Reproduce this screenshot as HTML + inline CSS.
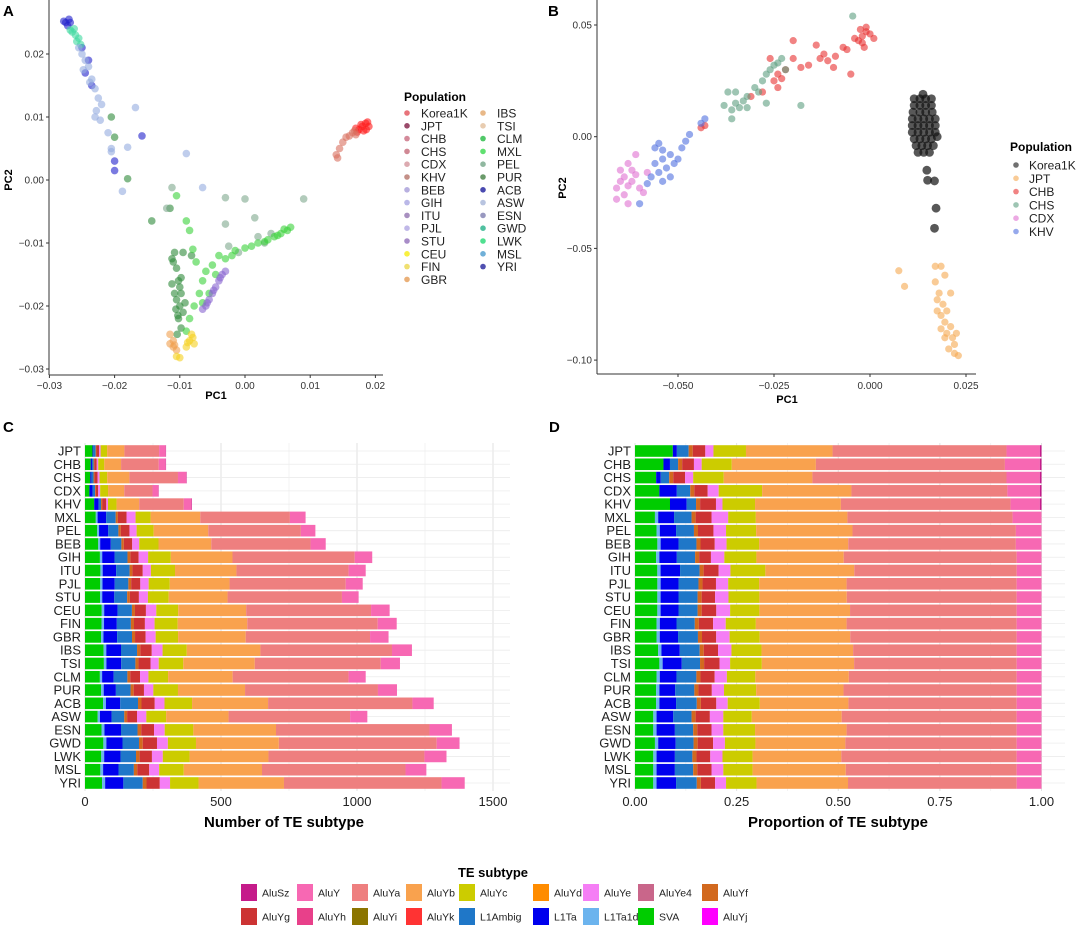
<!DOCTYPE html>
<html><head><meta charset="utf-8"><style>
html,body{margin:0;padding:0;background:#fff;}
svg{display:block;font-family:"Liberation Sans",Arial,sans-serif;}
</style></head><body>
<svg id="fig" width="1080" height="929" viewBox="0 0 1080 929" xmlns="http://www.w3.org/2000/svg">
<g id="static">
<text x="3" y="16" font-size="15" font-weight="bold">A</text>
<text x="548" y="16" font-size="15" font-weight="bold">B</text>
<text x="3" y="432" font-size="15" font-weight="bold">C</text>
<text x="549" y="432" font-size="15" font-weight="bold">D</text>
<text x="216" y="399" font-size="11" font-weight="bold" text-anchor="middle">PC1</text>
<text x="12" y="180" font-size="11" font-weight="bold" text-anchor="middle" transform="rotate(-90 12 180)">PC2</text>
<text x="787" y="403" font-size="11" font-weight="bold" text-anchor="middle">PC1</text>
<text x="566" y="188" font-size="11" font-weight="bold" text-anchor="middle" transform="rotate(-90 566 188)">PC2</text>
<text x="404" y="101" font-size="12" font-weight="bold">Population</text>
<text x="1010" y="151" font-size="12" font-weight="bold">Population</text>
<text x="284" y="827" font-size="15" font-weight="bold" text-anchor="middle">Number of TE subtype</text>
<text x="838" y="827" font-size="15" font-weight="bold" text-anchor="middle">Proportion of TE subtype</text>
<text x="493" y="877" font-size="13" font-weight="bold" text-anchor="middle">TE subtype</text>
</g>
</svg>
<script>
// ---------- Panel A data ----------
const aGroups = ['Korea1K','EAS1KG','YRI','GWD','ASW','PUR','PEL','MXL','SAS','IBS','CEU'];
const aColors = ['#ff1a1a','#d9705f','#2222cc','#40d8a0','#95ace0','#2e8b3a','#7ea88e','#3ad23a','#8866d0','#f0a050','#f5d020'];
const aKorea = [[0.018,0.0085],[0.0185,0.009],[0.0175,0.008],[0.019,0.0085],[0.0178,0.0088],[0.0182,0.0078],[0.017,0.0082],[0.0188,0.0092],[0.0172,0.0076],[0.0186,0.008]];
const aEas = [[0.016,0.007],[0.0165,0.0075],[0.0155,0.0068],[0.015,0.006],[0.0145,0.005],[0.014,0.004],[0.0142,0.0035],[0.017,0.0072],[0.0168,0.0078]];
const aYri = [[-0.0275,0.025],[-0.027,0.0255],[-0.0272,0.0245],[-0.0268,0.025],[-0.0278,0.0252],[-0.025,0.021],[-0.024,0.019],[-0.0235,0.015],[-0.0245,0.017],[-0.02,0.003],[-0.02,0.0015],[-0.0158,0.007]];
const aGwd = [[-0.0265,0.0235],[-0.026,0.023],[-0.0255,0.0225],[-0.0262,0.024],[-0.0258,0.022],[-0.0252,0.0215],[-0.0268,0.0238]];
const aAsw = [[-0.0255,0.021],[-0.025,0.02],[-0.0245,0.019],[-0.024,0.018],[-0.0235,0.016],[-0.023,0.0145],[-0.0225,0.013],[-0.022,0.012],[-0.0228,0.011],[-0.0222,0.0095],[-0.023,0.01],[-0.021,0.0075],[-0.0205,0.005],[-0.0205,0.0045],[-0.018,0.0052],[-0.0168,0.0115],[-0.0188,-0.0018],[-0.009,0.0042],[-0.0065,-0.0012],[-0.0248,0.0175],[-0.0238,0.0155]];
const aPur = [[-0.0108,-0.0115],[-0.011,-0.013],[-0.0105,-0.014],[-0.0102,-0.016],[-0.01,-0.017],[-0.0098,-0.018],[-0.0105,-0.019],[-0.01,-0.02],[-0.0095,-0.021],[-0.0102,-0.022],[-0.0108,-0.018],[-0.0112,-0.0165],[-0.0092,-0.0195],[-0.0112,-0.0125],[-0.0098,-0.0235],[-0.0104,-0.0245],[-0.0095,-0.0115],[-0.0082,-0.012],[-0.0205,0.01],[-0.02,0.0068],[-0.018,0.0002],[-0.0143,-0.0065],[-0.0115,-0.0045],[-0.0103,-0.0215],[-0.0098,-0.0155],[-0.0106,-0.0205]];
const aPel = [[-0.012,-0.0045],[-0.0112,-0.0012],[-0.003,-0.0028],[0.0,-0.003],[0.009,-0.003],[0.0015,-0.006],[-0.003,-0.007],[0.002,-0.009],[0.004,-0.0085],[-0.0025,-0.0105],[-0.001,-0.0115],[0.003,-0.01]];
const aMxl = [[-0.0105,-0.0025],[-0.009,-0.0065],[-0.0085,-0.008],[-0.008,-0.011],[-0.0075,-0.013],[-0.006,-0.0145],[-0.007,-0.018],[-0.0065,-0.016],[-0.005,-0.0135],[-0.004,-0.012],[-0.003,-0.0125],[-0.0015,-0.0112],[0.0,-0.0108],[0.001,-0.0105],[0.002,-0.01],[0.0035,-0.0095],[0.0045,-0.009],[0.0055,-0.0085],[0.0065,-0.008],[0.007,-0.0075],[0.006,-0.0078],[0.005,-0.0088],[0.003,-0.0098],[-0.002,-0.012],[-0.0085,-0.022],[-0.009,-0.024],[-0.0078,-0.02],[-0.0065,-0.0195],[-0.0055,-0.018],[-0.0045,-0.015]];
const aSas = [[-0.0065,-0.0205],[-0.006,-0.02],[-0.0055,-0.019],[-0.005,-0.018],[-0.0045,-0.017],[-0.004,-0.016],[-0.0035,-0.015],[-0.003,-0.0145],[-0.0058,-0.0195],[-0.0048,-0.0175],[-0.0038,-0.0155]];
const aIbs = [[-0.0115,-0.0245],[-0.011,-0.0255],[-0.011,-0.0265],[-0.0105,-0.027],[-0.0115,-0.026],[-0.0108,-0.0262]];
const aCeu = [[-0.0085,-0.0255],[-0.008,-0.025],[-0.009,-0.0265],[-0.0078,-0.026],[-0.0088,-0.0258],[-0.0105,-0.028],[-0.01,-0.0282],[-0.0082,-0.0245]];
const aTicksX = [-0.03,-0.02,-0.01,0.00,0.01,0.02];
const aTicksXLab = ['\u22120.03','\u22120.02','\u22120.01','0.00','0.01','0.02'];
const aTicksY = [0.02,0.01,0.00,-0.01,-0.02,-0.03];
const aTicksYLab = ['0.02','0.01','0.00','\u22120.01','\u22120.02','\u22120.03'];
const aLegNames = ['Korea1K','JPT','CHB','CHS','CDX','KHV','BEB','GIH','ITU','PJL','STU','CEU','FIN','GBR','IBS','TSI','CLM','MXL','PEL','PUR','ACB','ASW','ESN','GWD','LWK','MSL','YRI'];
const aLegColors = ['#e8737a','#9a4a6a','#d48a9a','#d08894','#dcaab0','#c49088','#b8b0e0','#bab8e8','#a890c0','#c0b8e8','#a88cc8','#f8f040','#f0e070','#eab078','#e8b888','#e8ccb0','#50c868','#60e070','#90b8a0','#6a9a6a','#4a4ab0','#b8c4e0','#9898c0','#50c0a0','#50e090','#70b0d8','#5050b0'];

// ---------- Panel B data ----------
const bKorea = [[0.0115,0.017],[0.013,0.017],[0.0145,0.017],[0.016,0.017],[0.0115,0.014],[0.013,0.014],[0.0145,0.014],[0.016,0.014],[0.0112,0.011],[0.013,0.011],[0.0145,0.011],[0.0162,0.011],[0.011,0.008],[0.0125,0.008],[0.014,0.008],[0.0155,0.008],[0.017,0.008],[0.011,0.005],[0.0125,0.005],[0.014,0.005],[0.0155,0.005],[0.017,0.005],[0.011,0.002],[0.0125,0.002],[0.014,0.002],[0.0155,0.002],[0.017,0.002],[0.0115,-0.001],[0.013,-0.001],[0.0145,-0.001],[0.016,-0.001],[0.012,-0.004],[0.0135,-0.004],[0.015,-0.004],[0.0165,-0.004],[0.0125,-0.007],[0.014,-0.007],[0.0155,-0.007],[0.0138,0.019],[0.0175,0.0],[0.0148,-0.015],[0.015,-0.0195],[0.0168,-0.0198],[0.0172,-0.032],[0.0168,-0.041]];
const bJpt = [[0.0075,-0.06],[0.009,-0.067],[0.017,-0.058],[0.0185,-0.058],[0.017,-0.065],[0.018,-0.07],[0.0175,-0.073],[0.019,-0.075],[0.0185,-0.08],[0.02,-0.078],[0.0195,-0.083],[0.021,-0.085],[0.02,-0.088],[0.0215,-0.09],[0.022,-0.093],[0.0205,-0.095],[0.022,-0.097],[0.023,-0.098],[0.0195,-0.09],[0.0175,-0.078],[0.0185,-0.086],[0.021,-0.07],[0.0195,-0.062],[0.0225,-0.088]];
const bChb = [[-0.002,0.045],[-0.001,0.047],[-0.003,0.043],[0.0,0.046],[-0.002,0.042],[-0.004,0.044],[-0.001,0.049],[0.001,0.044],[-0.0025,0.048],[-0.0015,0.04],[-0.007,0.04],[-0.006,0.039],[-0.009,0.036],[-0.011,0.034],[-0.013,0.035],[-0.014,0.041],[-0.016,0.032],[-0.018,0.031],[-0.02,0.035],[-0.022,0.03],[-0.024,0.028],[-0.025,0.025],[-0.023,0.026],[-0.026,0.035],[-0.02,0.043],[-0.031,0.018],[-0.028,0.02],[-0.043,0.005],[-0.044,0.004],[-0.024,0.022],[-0.0095,0.031],[-0.005,0.028],[-0.012,0.037]];
const bChs = [[-0.038,0.014],[-0.036,0.012],[-0.034,0.013],[-0.035,0.015],[-0.033,0.016],[-0.037,0.02],[-0.035,0.02],[-0.032,0.018],[-0.03,0.022],[-0.028,0.025],[-0.026,0.03],[-0.024,0.033],[-0.023,0.035],[-0.027,0.028],[-0.025,0.032],[-0.029,0.02],[-0.032,0.013],[-0.036,0.008],[-0.018,0.014],[-0.0045,0.054],[-0.027,0.015],[-0.022,0.03]];
const bCdx = [[-0.065,-0.02],[-0.064,-0.018],[-0.063,-0.022],[-0.066,-0.023],[-0.062,-0.02],[-0.061,-0.017],[-0.064,-0.026],[-0.063,-0.03],[-0.066,-0.028],[-0.06,-0.023],[-0.058,-0.016],[-0.062,-0.015],[-0.063,-0.012],[-0.059,-0.025],[-0.061,-0.008],[-0.065,-0.015]];
const bKhv = [[-0.056,-0.012],[-0.054,-0.01],[-0.055,-0.016],[-0.053,-0.014],[-0.057,-0.018],[-0.052,-0.008],[-0.054,-0.006],[-0.056,-0.005],[-0.051,-0.012],[-0.05,-0.01],[-0.049,-0.005],[-0.048,-0.002],[-0.047,0.001],[-0.043,0.008],[-0.044,0.006],[-0.058,-0.021],[-0.06,-0.03],[-0.054,-0.02],[-0.052,-0.018],[-0.055,-0.003]];
const bNames = ['Korea1K','JPT','CHB','CHS','CDX','KHV'];
const bColors = ['#111111','#f5a850','#e83030','#5e9e80','#e070d0','#5070e0'];
const bTicksX = [-0.05,-0.025,0,0.025];
const bTicksXLab = ['\u22120.050','\u22120.025','0.000','0.025'];
const bTicksY = [0.05,0,-0.05,-0.1];
const bTicksYLab = ['0.05','0.00','\u22120.05','\u22120.10'];

// ---------- Panels C/D data ----------
const pops = ['JPT','CHB','CHS','CDX','KHV','MXL','PEL','BEB','GIH','ITU','PJL','STU','CEU','FIN','GBR','IBS','TSI','CLM','PUR','ACB','ASW','ESN','GWD','LWK','MSL','YRI'];
const totals = [298,298,374,271,393,811,847,885,1056,1032,1021,1006,1120,1146,1116,1202,1158,1032,1147,1282,1038,1349,1377,1329,1255,1396];
const pSVA = [9.3,7.0,5.2,6.0,8.6,4.9,5.3,5.5,5.2,5.5,5.5,5.5,5.5,5.3,5.3,5.7,6.0,5.3,5.2,5.2,4.5,4.5,4.9,4.5,4.5,4.5];
const pL1Ta1d = [0,0,0,0,0,0.8,0.8,0.8,0.8,0.8,0.8,0.8,0.8,0.8,0.8,0.8,0.8,0.8,0.8,0.8,0.8,0.8,0.8,0.8,0.8,0.8];
const pL1Ta = [1.0,1.6,1.1,4.3,4.1,3.9,4.0,4.4,4.3,4.8,4.4,4.4,4.4,4.1,4.5,4.5,4.7,4.1,3.9,4.1,4.1,4.5,4.3,4.5,4.5,4.8];
const pL1Ambig = [2.9,2.0,2.1,3.3,2.3,4.3,4.4,4.4,4.5,4.8,4.9,4.7,4.7,4.5,4.9,4.9,4.5,4.9,4.7,5.1,4.5,4.5,4.4,4.3,4.5,5.1];
const pAluYf = [1.0,1.0,1.0,1.0,1.0,1.0,1.0,1.0,1.0,1.0,1.0,1.0,1.0,1.0,1.0,1.0,1.0,1.0,1.0,1.0,1.0,1.0,1.0,1.0,1.0,1.0];
const pAluYg = [3.1,2.9,2.9,3.3,3.9,3.9,3.8,3.5,2.9,3.7,3.3,3.3,3.6,3.5,3.5,3.5,3.8,3.5,3.3,3.8,3.5,3.5,3.8,3.4,3.5,3.5];
const pAluYe = [2.0,1.9,2.0,2.7,1.6,4.1,3.1,2.9,3.3,2.9,3.0,3.3,3.4,3.1,3.3,3.3,2.6,3.0,3.0,2.8,3.3,2.9,2.9,3.0,2.9,2.7];
const pAluYc = [8.0,7.4,7.5,10.7,8.0,6.8,7.4,8.0,7.9,8.6,7.6,7.6,7.2,7.4,7.4,7.4,7.8,7.0,7.9,7.9,7.0,7.8,7.5,7.4,7.2,7.5];
const pAluYb = [21.3,20.7,21.8,22.0,21.1,22.5,23.7,21.9,21.5,21.9,21.5,21.5,22.3,22.3,22.3,22.5,22.7,23.0,21.5,21.8,22.1,22.5,22.1,21.8,22.9,22.5];
const pAluYa = [42.8,46.5,47.7,38.4,41.7,40.6,40.2,41.2,42.6,40.0,41.8,41.8,41.0,41.8,41.0,40.2,40.0,41.3,42.6,41.4,43.0,41.8,42.1,43.1,42.0,41.5];
const pAluY = [8.2,8.6,8.2,8.0,7.2,7.1,6.3,6.3,6.1,6.1,6.1,6.1,6.1,6.1,6.1,6.1,6.1,6.1,6.1,6.1,6.1,6.1,6.1,6.1,6.1,6.1];
const pAluSz = [0.4,0.4,0.4,0.4,0.4,0,0,0,0,0,0,0,0,0,0,0,0,0,0,0,0,0,0,0,0,0];
const cTicks = [0,500,1000,1500];
const cTickLab = ['0','500','1000','1500'];
const dTicks = [0,0.25,0.5,0.75,1];
const dTickLab = ['0.00','0.25','0.50','0.75','1.00'];
const teNames = ['AluSz','AluY','AluYa','AluYb','AluYc','AluYd','AluYe','AluYe4','AluYf','AluYg','AluYh','AluYi','AluYk','L1Ambig','L1Ta','L1Ta1d','SVA','AluYj'];
const teColors = ['#c51b8a','#f768b3','#ee7f7f','#f9a24e','#cccc00','#ff8c00','#f57ef5','#c9668a','#d2691e','#cc3333','#e8408a','#8b7500','#ff3333','#1f77c8','#0000ee','#6cb4ee','#00cc00','#ff00ff'];

const NS='http://www.w3.org/2000/svg';
const svg=document.getElementById('fig');
function mk(tag,attrs,parent){const e=document.createElementNS(NS,tag);for(const k in attrs)e.setAttribute(k,attrs[k]);(parent||svg).appendChild(e);return e;}
function txt(x,y,s,size,anchor,parent){const t=mk('text',{x:x,y:y,'font-size':size,'text-anchor':anchor||'start',fill:'#333'},parent);t.textContent=s;return t;}

// ---- Panel A ----
const ax=v=>245+(v/0.01)*65.2;
const ay=v=>180-(v/0.01)*63;
const gA=mk('g',{});


mk('line',{x1:49,y1:0,x2:49,y2:375,stroke:'#333','stroke-width':1},gA);
mk('line',{x1:49,y1:375,x2:383,y2:375,stroke:'#333','stroke-width':1},gA);
aTicksX.forEach((v,i)=>{mk('line',{x1:ax(v),y1:375,x2:ax(v),y2:378,stroke:'#333'},gA);const t=txt(ax(v),389,aTicksXLab[i],10,'middle',gA);});
aTicksY.forEach((v,i)=>{mk('line',{x1:46,y1:ay(v),x2:49,y2:ay(v),stroke:'#333'},gA);const t=txt(44,ay(v)+3.5,aTicksYLab[i],10,'end',gA);});
const aSets=[aKorea,aEas,aYri,aGwd,aAsw,aPur,aPel,aMxl,aSas,aIbs,aCeu];
aSets.forEach((set,gi)=>{set.forEach(p=>{const c=mk('circle',{cx:ax(p[0]),cy:ay(p[1]),r:3.8,fill:aColors[gi],'fill-opacity':0.6},gA);});});
aLegNames.forEach((n,i)=>{const col=i<14?0:1;const row=i<14?i:i-14;const x=col?483:407;const y=113+row*12.8;
 const c=mk('circle',{cx:x,cy:y,r:2.8,fill:aLegColors[i]},gA);
 const t=txt(x+14,y+4.5,n,12,'start',gA);t.setAttribute('fill','#222');});

// ---- Panel B ----
const bx=v=>870+(v/0.025)*96;
const by=v=>136.7-(v/0.05)*111.7;
const gB=mk('g',{});


mk('line',{x1:597,y1:0,x2:597,y2:374,stroke:'#333'},gB);
mk('line',{x1:597,y1:374,x2:976,y2:374,stroke:'#333'},gB);
bTicksX.forEach((v,i)=>{mk('line',{x1:bx(v),y1:374,x2:bx(v),y2:377,stroke:'#333'},gB);const t=txt(bx(v),389,bTicksXLab[i],10,'middle',gB);});
bTicksY.forEach((v,i)=>{mk('line',{x1:594,y1:by(v),x2:597,y2:by(v),stroke:'#333'},gB);const t=txt(592,by(v)+3.5,bTicksYLab[i],10,'end',gB);});
const bSets=[bKorea,bJpt,bChb,bChs,bCdx,bKhv];
const bRad=[4.4,3.6,3.6,3.6,3.6,3.6];
bSets.forEach((set,gi)=>{set.forEach(p=>{const c=mk('circle',{cx:bx(p[0]),cy:by(p[1]),r:bRad[gi],fill:bColors[gi],'fill-opacity':gi==0?0.7:0.6},gB);});});
bNames.forEach((n,i)=>{const y=165+i*13.3;const c=mk('circle',{cx:1016,cy:y,r:2.8,fill:bColors[i],'fill-opacity':0.6},gB);
 const t=txt(1029,y+4.5,n,12,'start',gB);t.setAttribute('fill','#222');});

// ---- Panels C & D ----
const segs=[['SVA',pSVA],['L1Ta1d',pL1Ta1d],['L1Ta',pL1Ta],['L1Ambig',pL1Ambig],['AluYf',pAluYf],['AluYg',pAluYg],['AluYe',pAluYe],['AluYc',pAluYc],['AluYb',pAluYb],['AluYa',pAluYa],['AluY',pAluY],['AluSz',pAluSz]];
const colOf=n=>teColors[teNames.indexOf(n)];
const rowY=i=>451+i*13.28;
const cx=v=>85+v*0.272;
const dx=v=>635+v*406.5;
function panel(name,x0,x1,xs,ticks,labs,gridMinor,valFn){
 const g=mk('g',{});
 
 
 gridMinor.forEach(v=>mk('line',{x1:xs(v),y1:443,x2:xs(v),y2:791,stroke:'#f0f0f0','stroke-width':0.8},g));
 ticks.forEach(v=>mk('line',{x1:xs(v),y1:443,x2:xs(v),y2:791,stroke:'#e2e2e2','stroke-width':1},g));
 pops.forEach((p,i)=>mk('line',{x1:x0,y1:rowY(i),x2:x1,y2:rowY(i),stroke:'#ececec','stroke-width':0.8},g));
 pops.forEach((p,i)=>{const t=txt(x0-4,rowY(i)+4.5,p,13,'end',g);t.setAttribute('fill','#222');});
 ticks.forEach((v,i)=>{const t=txt(xs(v),806,labs[i],13,'middle',g);t.setAttribute('fill','#222');});
 pops.forEach((p,i)=>{let sum=0;segs.forEach(s=>sum+=s[1][i]);let acc=0;
  segs.forEach(s=>{const v=s[1][i];if(v<=0)return;const a=valFn(acc,sum,i),b=valFn(acc+v,sum,i);acc+=v;
   const r=mk('rect',{x:xs(a),y:rowY(i)-5.8,width:Math.max(0,xs(b)-xs(a)),height:11.6,fill:colOf(s[0])},g);
   
   });});
}
panel('panel-c-counts',85,510,cx,cTicks,cTickLab,[250,750,1250],(a,s,i)=>totals[i]*a/s);
panel('panel-d-proportions',635,1065,dx,dTicks,dTickLab,[0.125,0.375,0.625,0.875],(a,s,i)=>a/s);

// ---- TE legend ----
const legX=[241,297,352,406,459,533,583,638,702];
teNames.forEach((n,i)=>{const col=i%9,row=Math.floor(i/9);const x=legX[col],y=884+row*24;
 const r=mk('rect',{x:x,y:y,width:16,height:17,fill:teColors[i]});
 
 
 const t=txt(x+21,y+12.5,n,10.5,'start');
 
 
 t.setAttribute('fill','#222');});
</script>
</body></html>
